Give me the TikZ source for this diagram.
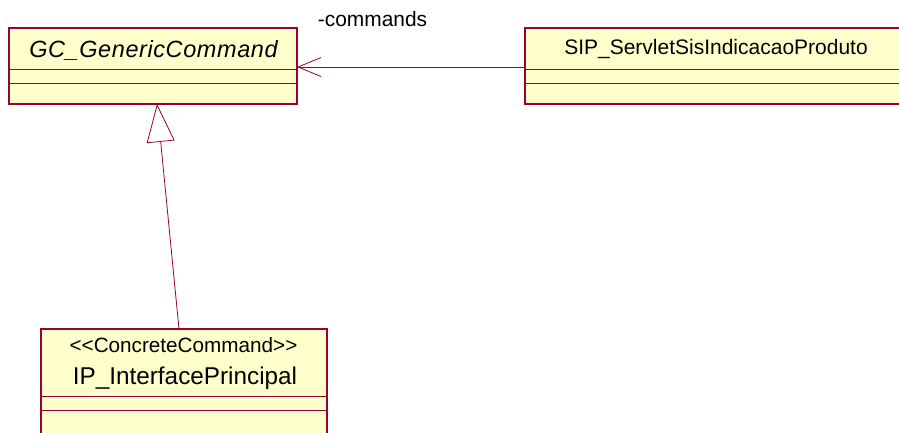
\documentclass[tikz,border=0pt]{standalone}
\usepackage{fontspec}
\setmainfont{Liberation Sans}
\newfontfamily\gcfont[LetterSpace=2.5]{Liberation Sans}
\usetikzlibrary{arrows.meta}
\definecolor{umlborder}{RGB}{153,0,51}
\definecolor{umlfill}{RGB}{255,255,204}
\begin{document}
\begin{tikzpicture}[x=1pt,y=-1pt,
  classbox/.style={draw=umlborder, fill=umlfill, line width=1.2pt, rectangle, inner sep=0pt, outer sep=0pt},
  sepline/.style={draw=umlborder, line width=1pt},
  conn/.style={draw=umlborder, line width=0.8pt},
  lbl/.style={inner sep=0pt, anchor=base, text=black}]
\useasboundingbox (0,0) rectangle (899,433);
% GC_GenericCommand
\node[classbox, minimum width=288pt, minimum height=76pt] (gc) at (153,66) {};
\draw[sepline] (gc.west |- 0,69.5) -- (gc.east |- 0,69.5);
\draw[sepline] (gc.west |- 0,83.5) -- (gc.east |- 0,83.5);
\node[lbl, font=\gcfont\itshape\fontsize{23.5}{28}\selectfont] (gct) at (153.5,57.3) {GC\_GenericCommand};
% SIP_ServletSisIndicacaoProduto
\node[classbox, minimum width=380pt, minimum height=76pt] (sip) at (715,66) {};
\draw[sepline] (sip.west |- 0,69.5) -- (sip.east |- 0,69.5);
\draw[sepline] (sip.west |- 0,83.5) -- (sip.east |- 0,83.5);
\node[lbl, font=\fontsize{21}{25}\selectfont] (sipt) at (716,54.5) {SIP\_ServletSisIndicacaoProduto};
% IP_InterfacePrincipal
\node[classbox, minimum width=286pt, minimum height=111pt] (ip) at (184,384.5) {};
\draw[sepline] (ip.west |- 0,396) -- (ip.east |- 0,396);
\draw[sepline] (ip.west |- 0,410) -- (ip.east |- 0,410);
\node[lbl, font=\fontsize{20.7}{24}\selectfont] (ipst) at (183.5,352) {<\kern0pt<ConcreteCommand>\kern0pt>};
\node[lbl, font=\fontsize{24.3}{28}\selectfont] (ipt) at (185,384) {IP\_InterfacePrincipal};
% association
\draw[conn, -{Straight Barb[length=23pt,width=19pt]}] ([yshift=-1pt]sip.west) -- ([yshift=-1pt]gc.east);
\node[lbl, font=\fontsize{20.9}{24}\selectfont] (cmd) at (372.5,27) {-commands};
% generalization
\draw[conn, -{Triangle[open, length=38pt, width=28pt]}] ([xshift=-5pt]ip.north) -- ([xshift=4pt]gc.south);
\end{tikzpicture}
\end{document}
